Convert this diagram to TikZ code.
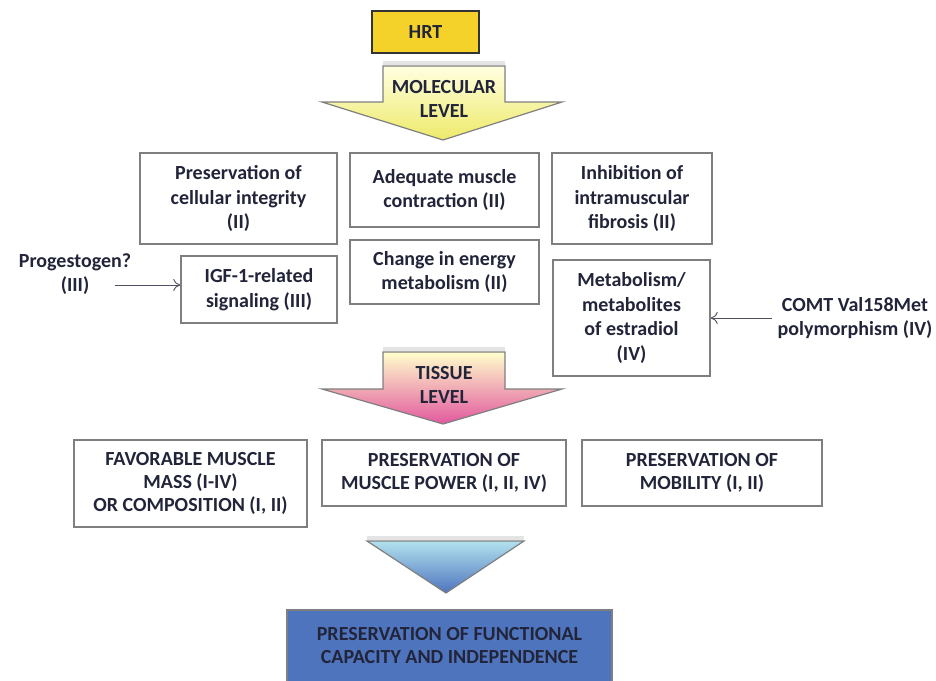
\documentclass[tikz,border=0pt]{standalone}
\usepackage{fontspec}
\setmainfont{Carlito}
\usepackage{tikz}
\usetikzlibrary{arrows.meta}

\definecolor{txt}{HTML}{22253A}
\definecolor{hrtgold}{HTML}{F4D22A}
\definecolor{boxline}{HTML}{7F7F7F}
\definecolor{outblue}{HTML}{4F74BE}
\definecolor{molyellow}{HTML}{EEEA6A}
\definecolor{tispink}{HTML}{E2589E}
\definecolor{tritop}{HTML}{B2E2EE}

\begin{document}
\begin{tikzpicture}[
  x=1pt, y=-1pt,
  every node/.style={text=txt, font=\bfseries\fontsize{20}{24.5}\selectfont, align=center},
  effect/.style={draw=boxline, line width=1.4pt, fill=white, inner sep=0pt},
  outcome/.style={effect, font=\bfseries\fontsize{20}{23}\selectfont},
  factor/.style={inner sep=1pt},
  influence/.style={draw=txt!80, line width=0.9pt, -{To[length=7pt,width=12pt]}},
  level/.style={draw=boxline, line width=1.2pt}
]
\useasboundingbox (0,0) rectangle (936,680);

% top: HRT
\node[draw=black!80, line width=1.6pt, fill=hrtgold, minimum width=107pt, minimum height=42pt] (hrt) at (425.5,32) {HRT};

% molecular level arrow
\draw[gray!35, line width=4pt, opacity=.6] (383,63) -- (505,63);
\shade[level, top color=yellow!12, bottom color=molyellow] (383,66) -- (505,66) -- (505,102) -- (562,102) -- (443,140) -- (322,102) -- (383,102) -- cycle;
\node (mol) at (444,99) {MOLECULAR\\LEVEL};

% molecular effects
\node[effect, minimum width=197pt, minimum height=91pt] (integrity) at (238.5,198.5) {Preservation of\\cellular integrity\\(II)};
\node[effect, minimum width=189pt, minimum height=74pt] (contract) at (444.5,190) {Adequate muscle\\contraction (II)};
\node[effect, minimum width=160pt, minimum height=91pt] (fibrosis) at (632,198.5) {Inhibition of\\intramuscular\\fibrosis (II)};
\node[effect, minimum width=156pt, minimum height=67pt] (igf) at (259,289.5) {IGF-1-related\\signaling (III)};
\node[effect, minimum width=189pt, minimum height=64pt] (energy) at (444.5,272) {Change in energy\\metabolism (II)};
\node[effect, minimum width=157pt, minimum height=116pt] (estradiol) at (631.5,318) {Metabolism/\\metabolites\\of estradiol\\(IV)};

% modifiers
\node[factor] (progest) at (75,274) {Progestogen?\\(III)};
\node[factor] (comt) at (855,318) {COMT Val158Met\\polymorphism (IV)};
\coordinate (pin) at (115,285);
\coordinate (cin) at (772,318);
\draw[influence] (pin) -- (igf.west |- pin);
\draw[influence] (cin) -- (estradiol.east |- cin);

% tissue level arrow
\draw[gray!35, line width=4pt, opacity=.6] (383,349) -- (505,349);
\shade[level, top color=yellow!20, bottom color=tispink] (383,352) -- (505,352) -- (505,389) -- (562,389) -- (443,424) -- (322,389) -- (383,389) -- cycle;
\node (tis) at (444,385) {TISSUE\\LEVEL};

% tissue outcomes
\node[outcome, minimum width=233pt, minimum height=87pt] (mass) at (190.5,483.5) {FAVORABLE MUSCLE\\MASS (I-IV)\\OR COMPOSITION (I, II)};
\node[outcome, minimum width=244pt, minimum height=66pt] (power) at (444,473) {PRESERVATION OF\\MUSCLE POWER (I, II, IV)};
\node[outcome, minimum width=240pt, minimum height=66pt] (mobility) at (702,473) {PRESERVATION OF\\MOBILITY (I, II)};

% final
\draw[gray!35, line width=4pt, opacity=.6] (367,538) -- (524,538);
\shade[level, top color=tritop, bottom color=outblue] (367,541) -- (524,541) -- (446,593) -- cycle;
\node[outcome, draw=boxline, fill=outblue, minimum width=325pt, minimum height=72pt] (capacity) at (449.5,646) {PRESERVATION OF FUNCTIONAL\\CAPACITY AND INDEPENDENCE};
\end{tikzpicture}
\end{document}
